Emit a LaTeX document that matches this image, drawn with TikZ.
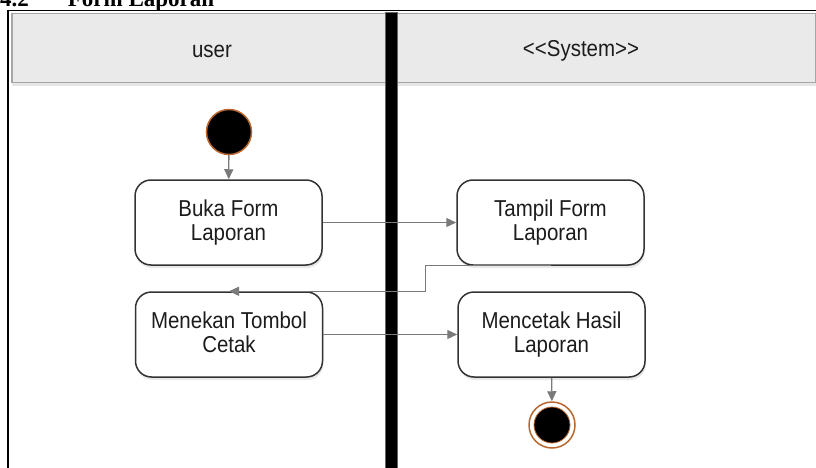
\documentclass[tikz,border=0pt]{standalone}
\usepackage{fontspec}
\setmainfont{Liberation Sans}
\newfontfamily\uifont{Liberation Sans}[FakeStretch=0.89]
\newfontfamily\titlefont{Liberation Serif}
\usetikzlibrary{arrows.meta,shadows}
\definecolor{hdrfill}{HTML}{EAEAEA}
\definecolor{hdrline}{HTML}{A6A6A6}
\definecolor{boxline}{HTML}{333333}
\definecolor{flowcol}{HTML}{7A7A7A}
\definecolor{ringcol}{HTML}{B8682E}
\definecolor{txtcol}{HTML}{1C1C1C}
\begin{document}
\begin{tikzpicture}[x=1pt,y=-1pt,
  lbl/.style={font=\uifont\fontsize{23}{23.4}\selectfont, text=txtcol, inner sep=0},
  actbox/.style={draw=boxline, line width=1.5pt, fill=white, rounded corners=16pt,
    minimum width=187pt, minimum height=85pt, align=center, inner sep=0,
    font=\uifont\fontsize{23}{23.4}\selectfont, text=txtcol,
    drop shadow={opacity=0.18, shadow xshift=1pt, shadow yshift=-3pt}},
  flow/.style={draw=flowcol, line width=1.3pt, -{Triangle[length=10pt,width=9pt]}},
  startnode/.style={circle, fill=black, draw=ringcol, line width=1.5pt, minimum size=45pt, inner sep=0},
]
\useasboundingbox (0,0) rectangle (816,468);
% title (cut off at top)
\node[anchor=base west, inner sep=0] (title) at (0,7)
  {\titlefont\bfseries\fontsize{23}{23}\selectfont 4.2\hspace{39pt}Form Laporan};
% frame
\draw[line width=1.6pt] (7,10.5) -- (816,10.5);
\draw[line width=1.6pt] (8,10) -- (8,468);
% header
\node[draw=hdrline, fill=hdrfill, line width=1.5pt, minimum width=804pt, minimum height=69pt,
  anchor=north west, inner sep=0,
  drop shadow={opacity=0.2, shadow xshift=0pt, shadow yshift=-3pt}] (header) at (11,13) {};
\node[lbl] (userlbl) at (212,51) {user};
\node[lbl] (syslbl) at (581,51) {<<System>>};
% swimlane bar
\node[fill=black, draw=black!60, line width=0.6pt, minimum width=12pt, minimum height=458pt,
  anchor=north west, inner sep=0] (bar) at (385,12) {};
% nodes
\node[startnode] (init) at (229,132) {};
\node[actbox] (buka) at (228.5,222.5) {Buka Form\\Laporan};
\node[actbox] (tampil) at (550.5,222.5) {Tampil Form\\Laporan};
\node[actbox] (menekan) at (229,334.5) {Menekan Tombol\\Cetak\vphantom{p}};
\node[actbox] (mencetak) at (551.5,334.5) {Mencetak Hasil\\Laporan};
\node[circle, fill=white, draw=ringcol, line width=1.5pt, minimum size=46pt, inner sep=0] (final) at (552,425) {};
\node[circle, fill=black, draw=ringcol, line width=0.8pt, minimum size=36pt, inner sep=0] (finalin) at (final.center) {};
% connectors
\draw[flow] (init) -- (buka);
\draw[flow] (buka) -- (tampil);
\draw[flow] (tampil.south) -- ++(-125,0) |- (menekan.north);
\draw[flow] (menekan) -- (mencetak);
\draw[flow] (mencetak) -- (final);
\end{tikzpicture}
\end{document}
